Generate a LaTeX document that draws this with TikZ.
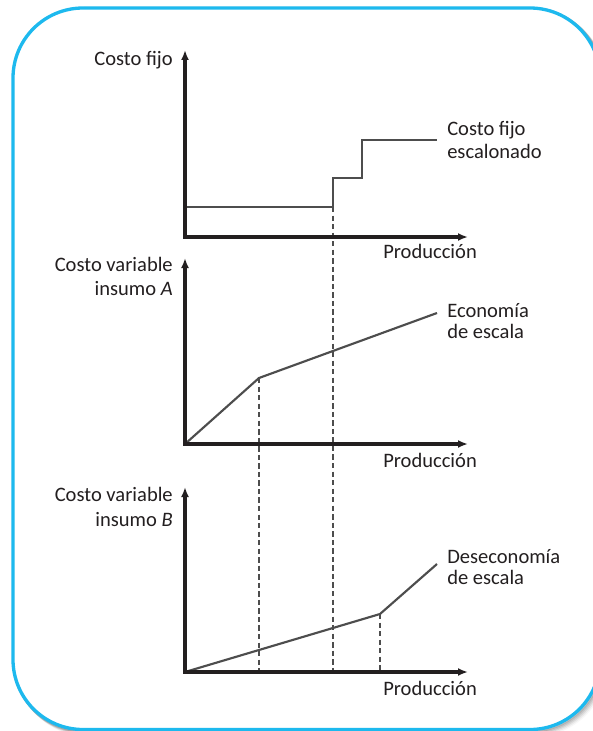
\documentclass[tikz,border=0pt]{standalone}
\usepackage{fontspec}
\setmainfont{Carlito}
\usetikzlibrary{arrows.meta}
\definecolor{frame}{HTML}{1DB9EE}
\definecolor{curve}{HTML}{4D4D4D}
\definecolor{axisc}{HTML}{231F20}
\tikzset{
  axis/.style={draw=axisc, line width=2.4pt, {Latex[length=7.5pt,width=6pt]}-{Latex[length=7.5pt,width=6pt]}},
  curveline/.style={draw=curve, line width=1.6pt},
  guide/.style={draw=curve, line width=1.2pt, dash pattern=on 4pt off 2.4pt},
  lbl/.style={inner sep=0pt, font=\fontsize{15.4pt}{18pt}\selectfont, text=axisc},
}
\begin{document}
\begin{tikzpicture}[x=0.75pt,y=-0.75pt]
\useasboundingbox (0,0) rectangle (592,731);
% shadow
\foreach \i/\o in {1/0.14,2/0.11,3/0.08,4/0.05,5/0.03}{
  \draw[black, opacity=\o, line width=3pt, rounded corners=52.5pt] (13+\i,8+\i) rectangle (600+\i,729.5+\i);
}
\fill[white, rounded corners=52.5pt] (13,8) rectangle (600,729.5);
\draw[frame, line width=2.5pt, rounded corners=52.5pt] (13,8) rectangle (600,729.5);

% ---------- top chart ----------
\coordinate (t0) at (185,237);
\coordinate (ttop) at (185,50);
\coordinate (tend) at (468,237);
\coordinate (s1) at (185,207);
\coordinate (s2) at (333,207);
\coordinate (s3) at (333,178);
\coordinate (s4) at (362,178);
\coordinate (s5) at (362,140);
\coordinate (s6) at (437,140);

% ---------- middle chart ----------
\coordinate (m0) at (185,444);
\coordinate (mtop) at (185,258);
\coordinate (mend) at (468,444);
\coordinate (mk) at (259,378);
\coordinate (me) at (437,313);

% ---------- bottom chart ----------
\coordinate (b0) at (185,672);
\coordinate (btop) at (185,487);
\coordinate (bend) at (468,672);
\coordinate (bk) at (380,614);
\coordinate (be) at (437,564);
\coordinate (bx1) at (259,672);
\coordinate (bx2) at (333,672);
\coordinate (bx3) at (380,672);

% guides
\draw[guide] (s2) -- (bx2);
\draw[guide] (mk) -- (bx1);
\draw[guide] (bk) -- (bx3);

% curves
\draw[curveline] (s1) -- (s2) -- (s3) -- (s4) -- (s5) -- (s6);
\draw[curveline] (m0) -- (mk) -- (me);
\draw[curveline] (b0) -- (bk) -- (be);

% axes
\draw[axis] (ttop) |- (tend);
\draw[axis] (mtop) |- (mend);
\draw[axis] (btop) |- (bend);

% labels
\node[lbl, anchor=base east] (ly1) at (173,66) {Costo fijo};
\node[lbl, anchor=base east] (ly2a) at (173,271) {Costo variable};
\node[lbl, anchor=base east] (ly2b) at (173,295) {insumo \textit{A}};
\node[lbl, anchor=base east] (ly3a) at (173,501) {Costo variable};
\node[lbl, anchor=base east] (ly3b) at (173,526) {insumo \textit{B}};

\node[lbl, anchor=base west] (lx1) at (383,258) {Producción};
\node[lbl, anchor=base west] (lx2) at (383,467) {Producción};
\node[lbl, anchor=base west] (lx3) at (383,695) {Producción};

\node[lbl, anchor=base west] (c1a) at (447,136) {Costo fijo};
\node[lbl, anchor=base west] (c1b) at (447,158) {escalonado};
\node[lbl, anchor=base west] (c2a) at (447,317) {Economía};
\node[lbl, anchor=base west] (c2b) at (447,338) {de escala};
\node[lbl, anchor=base west] (c3a) at (447,563) {Deseconomía};
\node[lbl, anchor=base west] (c3b) at (447,584) {de escala};
\end{tikzpicture}
\end{document}
